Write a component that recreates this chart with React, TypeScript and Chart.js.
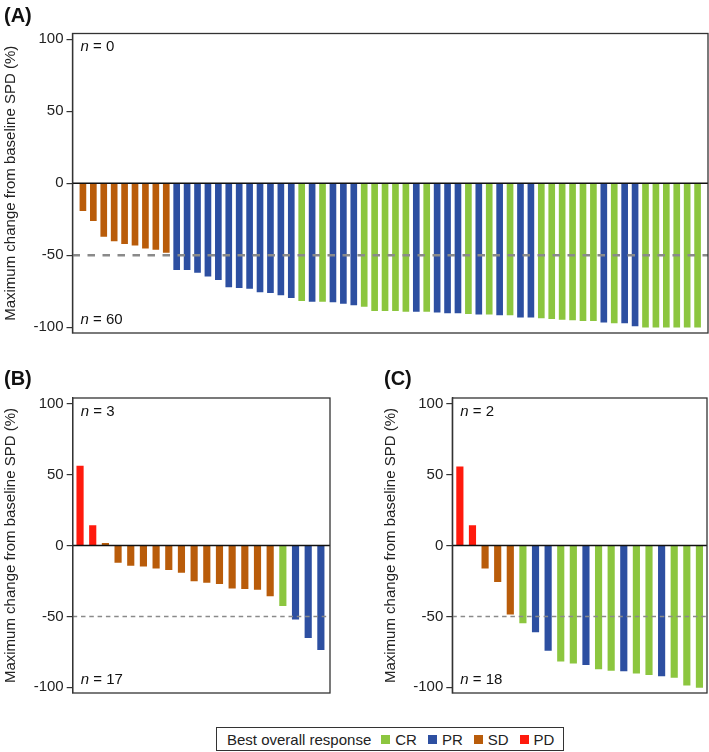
import React, { useEffect, useRef } from "react";
import { Chart, registerables } from "chart.js";

Chart.register(...registerables);

const FONT = '"Liberation Sans", Arial, Helvetica, sans-serif';

// ---- data ----
const responseColors: Record<string, string> = {
  CR: "#8CC63F",
  PR: "#2D4FA1",
  SD: "#B95C0A",
  PD: "#FF1A0D",
};
const legendCategories = ["CR", "PR", "SD", "PD"];
const legendTitle = "Best overall response";
const yAxisTitle = "Maximum change from baseline SPD (%)";
const yTickValues = [-100, -50, 0, 50, 100];
const thresholdValue = -50;

const panelAValues = [
  -19, -26, -37, -40, -42, -43, -45, -46, -48,
  -60, -60, -62, -64.5, -67, -72, -72.5, -73, -75.5, -76, -77.5, -79.5,
  -81.5, -82, -82, -82.5, -83.5, -84.5, -85.5, -88.5, -88.5, -88.5,
  -89, -89, -89, -89.5, -90, -90, -90.5, -91, -91, -91.5, -91.5,
  -93, -93, -93.5, -94, -94.5, -95, -95.5, -95.5, -96.5, -97, -97, -99,
  -100, -100, -100, -100, -100, -100,
];
const panelAResponse = [
  "SD", "SD", "SD", "SD", "SD", "SD", "SD", "SD", "SD",
  "PR", "PR", "PR", "PR", "PR", "PR", "PR", "PR", "PR", "PR", "PR", "PR",
  "CR", "PR", "CR", "PR", "PR", "PR", "CR", "CR", "CR", "CR",
  "CR", "PR", "CR", "PR", "PR", "PR", "CR", "PR", "CR", "PR", "CR",
  "PR", "PR", "CR", "CR", "CR", "CR", "CR", "CR", "PR", "CR", "PR", "PR",
  "CR", "CR", "CR", "CR", "CR", "CR",
];

const panelBValues = [
  56, 14, 1.5, -12, -14, -14.5, -16, -17, -19, -25, -26, -27, -30, -30.5,
  -31, -35.5, -42.5, -52, -65, -73.5,
];
const panelBResponse = [
  "PD", "PD", "SD", "SD", "SD", "SD", "SD", "SD", "SD", "SD", "SD", "SD",
  "SD", "SD", "SD", "SD", "CR", "PR", "PR", "PR",
];

const panelCValues = [
  55.5, 14, -16, -25.5, -48.5, -54.5, -61, -74, -81.5, -83, -84, -87, -88,
  -88.5, -90, -91, -92, -93, -98.5, -100,
];
const panelCResponse = [
  "PD", "PD", "SD", "SD", "SD", "CR", "PR", "PR", "CR", "CR", "PR", "CR",
  "CR", "PR", "CR", "CR", "PR", "CR", "CR", "CR",
];

// ---- decoration plugin ----
const decorPlugin = {
  id: "decor",
  afterDatasetsDraw(chart: any, _args: any, opts: any) {
    const { ctx, chartArea: a, scales } = chart;
    const y = scales.y;
    ctx.save();
    const yd = y.getPixelForValue(thresholdValue);
    ctx.strokeStyle = "#8a8a8a";
    ctx.lineWidth = opts.dashWidth;
    ctx.setLineDash(opts.dash);
    ctx.beginPath();
    ctx.moveTo(a.left, yd);
    ctx.lineTo(a.right, yd);
    ctx.stroke();
    ctx.setLineDash([]);
    const y0 = y.getPixelForValue(0);
    ctx.strokeStyle = "#111";
    ctx.lineWidth = opts.zeroWidth;
    ctx.beginPath();
    ctx.moveTo(a.left, y0);
    ctx.lineTo(a.right, y0);
    ctx.stroke();
    ctx.strokeStyle = "#333";
    ctx.lineWidth = 1.3;
    ctx.strokeRect(a.left, a.top, a.right - a.left, a.bottom - a.top);
    const drawN = (text: string, x: number, yy: number) => {
      ctx.fillStyle = "#111";
      ctx.textBaseline = "middle";
      ctx.textAlign = "left";
      ctx.font = `italic 15px ${FONT}`;
      ctx.fillText("n", x, yy);
      const w = ctx.measureText("n").width;
      ctx.font = `15px ${FONT}`;
      ctx.fillText(" = " + text, x + w, yy);
    };
    drawN(String(opts.nAbove), a.left + 8, a.top + 13.5);
    drawN(String(opts.nBelow), a.left + 8, a.bottom - 13);
    ctx.restore();
  },
};

type PanelProps = {
  values: number[];
  response: string[];
  left: number;
  top: number;
  width: number;
  height: number;
  padding: { top: number; bottom: number; left: number; right: number };
  axisWidth: number;
  xMin: number;
  xMax: number;
  barThickness: number;
  dash: number[];
  dashWidth: number;
  zeroWidth: number;
  titlePad: number;
};

function Panel(p: PanelProps) {
  const ref = useRef<HTMLCanvasElement | null>(null);
  useEffect(() => {
    if (!ref.current) return;
    const nAbove = p.values.filter((v) => v > 0).length;
    const nBelow = p.values.filter((v) => v <= 0).length;
    const chart = new Chart(ref.current, {
      type: "bar",
      data: {
        datasets: [
          {
            data: p.values.map((v, i) => ({ x: i, y: v })),
            backgroundColor: p.response.map((r) => responseColors[r]),
            borderWidth: 0,
            barThickness: p.barThickness,
          },
        ],
      },
      options: {
        animation: false,
        responsive: false,
        devicePixelRatio: 1,
        layout: { padding: p.padding },
        plugins: {
          legend: { display: false },
          tooltip: { enabled: false },
          decor: {
            nAbove,
            nBelow,
            dash: p.dash,
            dashWidth: p.dashWidth,
            zeroWidth: p.zeroWidth,
          },
        } as any,
        scales: {
          x: {
            type: "linear",
            min: p.xMin,
            max: p.xMax,
            offset: false,
            display: false,
          },
          y: {
            min: -104,
            max: 104,
            afterBuildTicks: (s: any) => {
              s.ticks = yTickValues.map((v) => ({ value: v }));
            },
            afterFit: (s: any) => {
              s.width = p.axisWidth;
            },
            ticks: {
              color: "#222",
              font: { family: FONT, size: 15 },
              padding: 3,
            },
            grid: {
              display: true,
              drawOnChartArea: false,
              drawTicks: true,
              tickLength: 6,
              color: "#333",
              lineWidth: 1.2,
            },
            border: { display: true, color: "#333", width: 1.3 },
            title: {
              display: true,
              text: yAxisTitle,
              color: "#222",
              font: { family: FONT, size: 15 },
              padding: { top: p.titlePad, bottom: 0 },
            },
          },
        },
      },
      plugins: [decorPlugin],
    });
    return () => chart.destroy();
  }, []);
  return (
    <canvas
      ref={ref}
      width={p.width}
      height={p.height}
      style={{
        position: "absolute",
        left: p.left,
        top: p.top,
        width: p.width,
        height: p.height,
        display: "block",
      }}
    />
  );
}

const labelStyle: React.CSSProperties = {
  position: "absolute",
  fontFamily: FONT,
  fontWeight: "bold",
  fontSize: 20,
  color: "#111",
  lineHeight: "22px",
};

export default function App() {
  return (
    <div
      style={{
        position: "absolute",
        left: 0,
        top: 0,
        width: 709,
        height: 752,
        background: "#fff",
        overflow: "hidden",
      }}
    >
      <Panel
        values={panelAValues}
        response={panelAResponse}
        left={0}
        top={0}
        width={709}
        height={345}
        padding={{ top: 33.5, bottom: 10.5, left: 0, right: 1 }}
        axisWidth={72.5}
        xMin={-1}
        xMax={60}
        barThickness={6}
        dash={[7.5, 7.5]}
        dashWidth={2.5}
        zeroWidth={1.6}
        titlePad={1.5}
      />
      <Panel
        values={panelBValues}
        response={panelBResponse}
        left={0}
        top={360}
        width={335}
        height={345}
        padding={{ top: 38, bottom: 8, left: 0, right: 5 }}
        axisWidth={72.7}
        xMin={-0.58}
        xMax={19.72}
        barThickness={6.5}
        dash={[4.5, 3.8]}
        dashWidth={1.5}
        zeroWidth={1.4}
        titlePad={1.5}
      />
      <Panel
        values={panelCValues}
        response={panelCResponse}
        left={380}
        top={360}
        width={329}
        height={345}
        padding={{ top: 38, bottom: 8, left: 0, right: 2 }}
        axisWidth={72.3}
        xMin={-0.6}
        xMax={19.6}
        barThickness={6.5}
        dash={[4.5, 3.8]}
        dashWidth={1.5}
        zeroWidth={1.4}
        titlePad={1.5}
      />
      <div style={{ ...labelStyle, left: 4, top: 4 }}>(A)</div>
      <div style={{ ...labelStyle, left: 4, top: 367 }}>(B)</div>
      <div style={{ ...labelStyle, left: 384, top: 367 }}>(C)</div>
      <div
        style={{
          position: "absolute",
          left: 216,
          top: 727,
          width: 348,
          height: 24,
          boxSizing: "border-box",
          border: "1px solid #333",
          display: "flex",
          alignItems: "center",
          paddingLeft: 10,
          fontFamily: FONT,
          fontSize: 15,
          color: "#222",
          whiteSpace: "nowrap",
        }}
      >
        <span style={{ marginRight: 10 }}>{legendTitle}</span>
        {legendCategories.map((c) => (
          <span
            key={c}
            style={{ display: "inline-flex", alignItems: "center", marginRight: 11 }}
          >
            <span
              style={{
                display: "inline-block",
                width: 9,
                height: 9,
                background: responseColors[c],
                marginRight: 5,
              }}
            />
            {c}
          </span>
        ))}
      </div>
    </div>
  );
}
